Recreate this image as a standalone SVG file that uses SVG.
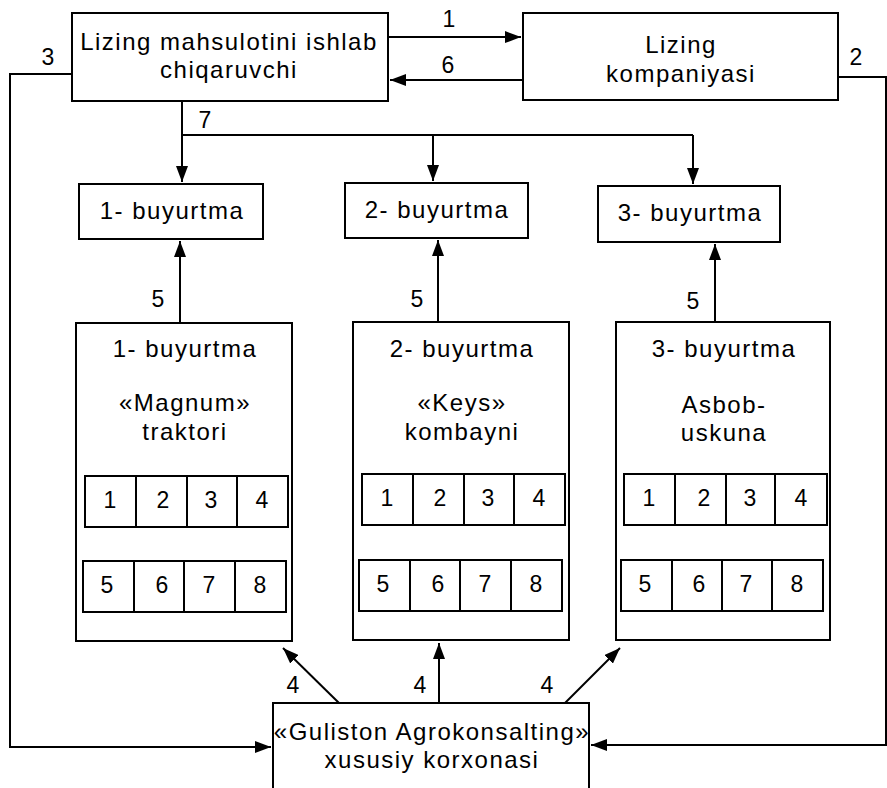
<svg xmlns="http://www.w3.org/2000/svg" width="887" height="788" viewBox="0 0 887 788">
<style>
.b{fill:#fff;stroke:#000;stroke-width:2}
.l{fill:none;stroke:#000;stroke-width:2}
text{font-family:"Liberation Sans",Arial,sans-serif;font-size:24px;fill:#000;text-anchor:middle;letter-spacing:1.5px}
.d{font-size:23px;letter-spacing:0}
</style>
<defs>
<marker id="ah" viewBox="0 0 16 12" refX="16" refY="6" markerWidth="16" markerHeight="12" markerUnits="userSpaceOnUse" orient="auto">
<path d="M0,0 L16,6 L0,12 Z" fill="#000"/>
</marker>
</defs>
<rect width="887" height="788" fill="#fff"/>
<g id="connectors">
<line class="l" x1="388" y1="37" x2="521" y2="37" marker-end="url(#ah)"/>
<line class="l" x1="523" y1="80" x2="390" y2="80" marker-end="url(#ah)"/>
<polyline class="l" points="72,74 10,74 10,747 271,747" marker-end="url(#ah)"/>
<polyline class="l" points="838,77 886,77 886,745 591,745" marker-end="url(#ah)"/>
<line class="l" x1="182" y1="101" x2="182" y2="135"/>
<line class="l" x1="182" y1="135" x2="693" y2="135"/>
<line class="l" x1="182" y1="135" x2="182" y2="182" marker-end="url(#ah)"/>
<line class="l" x1="433" y1="135" x2="433" y2="181" marker-end="url(#ah)"/>
<line class="l" x1="693" y1="135" x2="693" y2="184" marker-end="url(#ah)"/>
<line class="l" x1="180" y1="323" x2="180" y2="241" marker-end="url(#ah)"/>
<line class="l" x1="438" y1="322" x2="438" y2="240" marker-end="url(#ah)"/>
<line class="l" x1="715" y1="322" x2="715" y2="244" marker-end="url(#ah)"/>
<line class="l" x1="339" y1="703" x2="283" y2="648" marker-end="url(#ah)"/>
<line class="l" x1="439" y1="703" x2="439" y2="643" marker-end="url(#ah)"/>
<line class="l" x1="565" y1="703" x2="620" y2="648" marker-end="url(#ah)"/>
<text class="d" x="449" y="27">1</text>
<text class="d" x="448" y="73">6</text>
<text class="d" x="48" y="65">3</text>
<text class="d" x="856" y="65">2</text>
<text class="d" x="205" y="128">7</text>
<text class="d" x="158" y="307">5</text>
<text class="d" x="417" y="307">5</text>
<text class="d" x="693" y="309">5</text>
<text class="d" x="293" y="693">4</text>
<text class="d" x="420" y="693">4</text>
<text class="d" x="547" y="693">4</text>
</g>
<g id="producer">
<rect class="b" x="72" y="13" width="316" height="88"/>
<text x="229" y="50">Lizing mahsulotini ishlab</text>
<text x="229" y="78">chiqaruvchi</text>
</g>
<g id="company">
<rect class="b" x="523" y="13" width="315" height="87"/>
<text x="681" y="53">Lizing</text>
<text x="681" y="82">kompaniyasi</text>
</g>
<g id="order1">
<rect class="b" x="79" y="184" width="184" height="55"/>
<text x="172" y="219">1- buyurtma</text>
</g>
<g id="order2">
<rect class="b" x="345" y="183" width="183" height="55"/>
<text x="437" y="218">2- buyurtma</text>
</g>
<g id="order3">
<rect class="b" x="598" y="186" width="182" height="56"/>
<text x="690" y="221">3- buyurtma</text>
</g>
<g id="big1">
<rect class="b" x="76" y="323" width="216" height="318"/>
<text x="185" y="357">1- buyurtma</text>
<text x="185" y="411">«Magnum»</text>
<text x="185" y="440">traktori</text>
<rect class="b" x="85" y="476" width="51" height="51"/><rect class="b" x="136" y="476" width="51" height="51"/><rect class="b" x="187" y="476" width="50" height="51"/><rect class="b" x="237" y="476" width="51" height="51"/>
<text class="d" x="110" y="508">1</text><text class="d" x="163" y="508">2</text><text class="d" x="211" y="508">3</text><text class="d" x="262" y="508">4</text>
<rect class="b" x="83" y="561" width="51" height="51"/><rect class="b" x="134" y="561" width="50" height="51"/><rect class="b" x="184" y="561" width="51" height="51"/><rect class="b" x="235" y="561" width="51" height="51"/>
<text class="d" x="107" y="593">5</text><text class="d" x="162" y="593">6</text><text class="d" x="209" y="593">7</text><text class="d" x="260" y="593">8</text>
</g>
<g id="big2">
<rect class="b" x="353" y="322" width="216" height="318"/>
<text x="462" y="357">2- buyurtma</text>
<text x="462" y="411">«Keys»</text>
<text x="462" y="440">kombayni</text>
<rect class="b" x="362" y="474" width="51" height="51"/><rect class="b" x="413" y="474" width="51" height="51"/><rect class="b" x="464" y="474" width="50" height="51"/><rect class="b" x="514" y="474" width="51" height="51"/>
<text class="d" x="387" y="506">1</text><text class="d" x="440" y="506">2</text><text class="d" x="488" y="506">3</text><text class="d" x="539" y="506">4</text>
<rect class="b" x="359" y="560" width="51" height="51"/><rect class="b" x="410" y="560" width="50" height="51"/><rect class="b" x="460" y="560" width="51" height="51"/><rect class="b" x="511" y="560" width="51" height="51"/>
<text class="d" x="383" y="592">5</text><text class="d" x="438" y="592">6</text><text class="d" x="485" y="592">7</text><text class="d" x="536" y="592">8</text>
</g>
<g id="big3">
<rect class="b" x="616" y="322" width="214" height="318"/>
<text x="724" y="357">3- buyurtma</text>
<text x="724" y="413">Asbob-</text>
<text x="724" y="441">uskuna</text>
<rect class="b" x="624" y="474" width="51" height="51"/><rect class="b" x="675" y="474" width="51" height="51"/><rect class="b" x="726" y="474" width="49" height="51"/><rect class="b" x="775" y="474" width="52" height="51"/>
<text class="d" x="649" y="506">1</text><text class="d" x="704" y="506">2</text><text class="d" x="750" y="506">3</text><text class="d" x="801" y="506">4</text>
<rect class="b" x="621" y="560" width="51" height="51"/><rect class="b" x="672" y="560" width="50" height="51"/><rect class="b" x="722" y="560" width="50" height="51"/><rect class="b" x="772" y="560" width="51" height="51"/>
<text class="d" x="645" y="592">5</text><text class="d" x="699" y="592">6</text><text class="d" x="746" y="592">7</text><text class="d" x="797" y="592">8</text>
</g>
<g id="guliston">
<rect x="273" y="703" width="316" height="90" fill="#fff"/>
<polyline class="l" points="273,790 273,703 589,703 589,790"/>
<text x="432" y="740">«Guliston Agrokonsalting»</text>
<text x="432" y="768">xususiy korxonasi</text>
</g>
</svg>
